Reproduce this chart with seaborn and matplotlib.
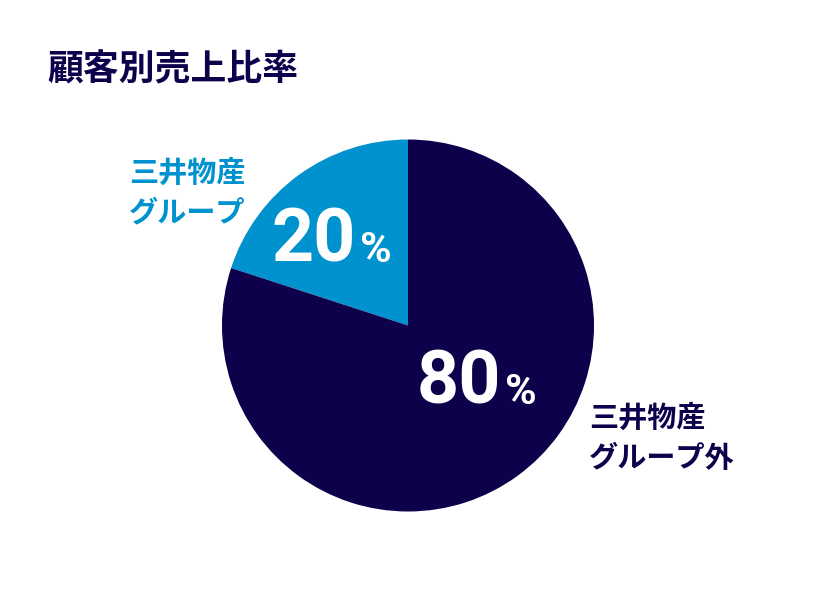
import matplotlib
matplotlib.use("Agg")
import matplotlib.pyplot as plt
import seaborn as sns

sns.set_theme(style="white")
plt.rcParams['font.family'] = ['Noto Sans CJK JP', 'DejaVu Sans']

# data
title = "顧客別売上比率"
segments = ["三井物産\nグループ", "三井物産\nグループ外"]
shares = [20, 80]
colors = ["#0091cf", "#0e004b"]

W, H = 816, 600
fig = plt.figure(figsize=(W / 100, H / 100), dpi=100)
fig.patch.set_facecolor("white")

def px(x, y):
    return x / W, 1 - y / H

# pie axes: centre (408, 325), radius 186 px
cx, cy, r = 408, 325.5, 186
ax = fig.add_axes([(cx - r) / W, (H - cy - r) / H, 2 * r / W, 2 * r / H])
ax.pie(shares, colors=colors, startangle=90, counterclock=True, radius=1,
       wedgeprops=dict(linewidth=0))
ax.set_xlim(-1, 1)
ax.set_ylim(-1, 1)
ax.set_aspect("equal")
ax.axis("off")

# title
fig.text(*px(47, 70), title, fontsize=25.8, fontweight="bold", color=colors[1],
         ha="left", va="center")

# segment labels
label_pos = [(129, 193), (589, 438)]
for lab, (x, y), c in zip(segments, label_pos, colors):
    fig.text(*px(x, y), lab, fontsize=21, fontweight="bold", color=c,
             ha="left", va="center", linespacing=1.4)

# percentage labels
pct_pos = [(356, 262), (501, 404)]
for v, (x, y) in zip(shares, pct_pos):
    fig.text(*px(x, y), str(v), fontsize=53, fontweight="bold", color="white",
             ha="right", va="baseline", family="Roboto")
    fig.text(*px(x + 4, y), "%", fontsize=31, fontweight="bold", color="white",
             ha="left", va="baseline", family="Roboto")

fig.savefig("out.png", dpi=100, facecolor="white")
